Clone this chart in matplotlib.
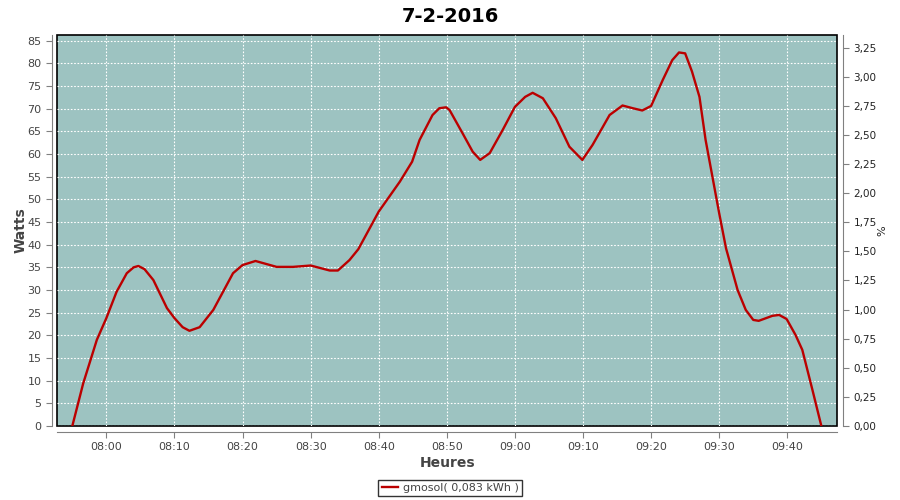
import numpy as np
import datetime as dt
import matplotlib
matplotlib.use('Agg')
import matplotlib.pyplot as plt
import matplotlib.dates as mdates
from matplotlib.ticker import MultipleLocator, FuncFormatter

# minutes after 08:00 and power (W)
minutes = [-5.0, -3.4, -1.4, 0.0, 1.5, 3.0, 4.0, 4.7, 5.6, 6.9, 8.9, 10.0, 11.2, 12.2, 13.7,
           15.7, 18.6, 20.0, 21.9, 25.0, 27.4, 30.0, 32.8, 34.0, 35.7, 37.0, 40.0, 43.1,
           44.9, 46.0, 47.9, 48.9, 49.9, 50.4, 52.3, 53.8, 54.9, 56.3, 58.2, 60.0, 61.5,
           62.6, 64.1, 66.0, 68.0, 69.9, 71.4, 73.9, 75.8, 77.3, 78.7, 80.0, 81.7, 83.1,
           84.1, 85.0, 86.0, 87.1, 88.0, 89.0, 90.0, 91.0, 92.7, 93.9, 95.0, 95.8, 97.8,
           98.8, 99.9, 101.2, 102.2, 103.7, 105.0]
watts = [0, 9.4, 19.0, 23.8, 29.6, 33.7, 35.0, 35.3, 34.6, 32.2, 26.0, 23.8, 21.8, 21.0,
         21.8, 25.6, 33.7, 35.5, 36.4, 35.1, 35.1, 35.4, 34.3, 34.3, 36.6, 39.0, 47.3,
         53.9, 58.3, 63.1, 68.6, 70.1, 70.3, 69.7, 64.6, 60.5, 58.7, 60.2, 65.3, 70.4,
         72.6, 73.5, 72.3, 67.9, 61.6, 58.7, 62.0, 68.6, 70.7, 70.1, 69.6, 70.6, 76.3,
         80.7, 82.4, 82.2, 78.2, 72.6, 63.1, 55.0, 46.9, 39.2, 30.0, 25.6, 23.4, 23.2,
         24.3, 24.5, 23.6, 20.1, 16.8, 7.9, 0]

title = '7-2-2016'
series_label = 'gmosol( 0,083 kWh )'

t0 = dt.datetime(2016, 2, 7, 8, 0)
times = [t0 + dt.timedelta(minutes=m) for m in minutes]

fig = plt.figure(figsize=(9, 5), dpi=100)
ax = fig.add_axes([0.0637, 0.148, 0.8667, 0.782])
ax.set_facecolor('#9dc3c1')

ln, = ax.plot(times, watts, color='#bb0000', lw=1.7, label=series_label)

ax.set_xlim(t0 + dt.timedelta(minutes=-7.2), t0 + dt.timedelta(minutes=107.35))
ax.set_ylim(0, 86.25)
ax.yaxis.set_major_locator(MultipleLocator(5))
ax.xaxis.set_major_locator(mdates.MinuteLocator(byminute=range(0, 60, 10)))
ax.xaxis.set_major_formatter(mdates.DateFormatter('%H:%M'))
ax.grid(True, color='white', ls=(0, (1.5, 1.5)), lw=0.8)

# frame and offset axis lines
for s in ['top', 'right']:
    ax.spines[s].set_visible(False)
for s in ['left', 'bottom']:
    ax.spines[s].set_position(('outward', 4))
    ax.spines[s].set_color('#808080')
ax.patch.set_edgecolor('black')
ax.patch.set_linewidth(1.2)
ax.tick_params(colors='#808080', labelcolor='#444444', labelsize=8, length=4)

ax2 = ax.twinx()
ax2.set_ylim(0, 86.25 / 25.68)
ax2.yaxis.set_major_locator(MultipleLocator(0.25))
ax2.yaxis.set_major_formatter(FuncFormatter(lambda v, p: ('%.2f' % v).replace('.', ',')))
for s in ['top', 'left', 'bottom']:
    ax2.spines[s].set_visible(False)
ax2.spines['right'].set_position(('outward', 4))
ax2.spines['right'].set_color('#808080')
ax2.tick_params(colors='#808080', labelcolor='#222222', labelsize=7.5, length=4)

ax.set_ylabel('Watts', fontsize=10, fontweight='bold', color='#444444')
ax.yaxis.set_label_coords(-0.038, 0.5)
ax.set_xlabel('Heures', fontsize=10, fontweight='bold', color='#444444', labelpad=3)
ax2.set_ylabel('%', fontsize=8, color='#222222')
ax2.yaxis.set_label_coords(1.051, 0.5)
fig.suptitle(title, fontsize=14, fontweight='bold', y=0.985)

leg = fig.legend(handles=[ln], loc='center', bbox_to_anchor=(0.5, 0.024),
                 fontsize=8, frameon=True, fancybox=False, handlelength=1.5,
                 borderpad=0.3, handletextpad=0.4)
leg.get_frame().set_edgecolor('black')
leg.get_frame().set_linewidth(1)
for t in leg.get_texts():
    t.set_color('#444444')

plt.savefig('out.png', dpi=100)
